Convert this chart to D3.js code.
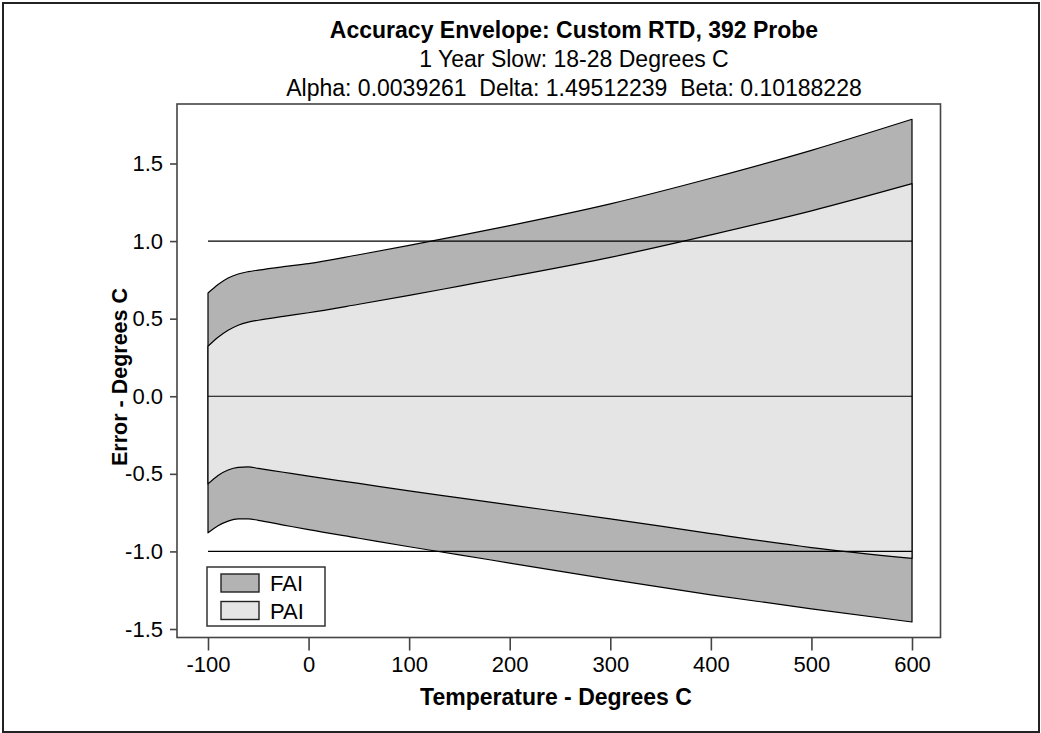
<!DOCTYPE html>
<html>
<head>
<meta charset="utf-8">
<script src="https://cdn.jsdelivr.net/npm/d3@7"></script>
<style>
  html, body { margin: 0; padding: 0; background: #fff; }
  svg { display: block; font-family: "Liberation Sans", Arial, Helvetica, sans-serif; }
</style>
</head>
<body>
<div id="chart"></div>
<script>
// values
const temps = [-100, -90, -80, -70, -60, -50, -25, 0, 50, 100, 150, 200, 300, 400, 500, 600];
const faiUpper = [0.665, 0.72, 0.762, 0.788, 0.803, 0.813, 0.835, 0.855, 0.912, 0.972, 1.035, 1.10, 1.24, 1.405, 1.585, 1.785];
const paiUpper = [0.322, 0.38, 0.425, 0.458, 0.478, 0.49, 0.515, 0.538, 0.593, 0.65, 0.71, 0.77, 0.895, 1.04, 1.195, 1.37];
const paiLower = [-0.565, -0.51, -0.475, -0.458, -0.455, -0.465, -0.49, -0.515, -0.562, -0.61, -0.655, -0.70, -0.79, -0.885, -0.975, -1.045];
const faiLower = [-0.88, -0.835, -0.805, -0.79, -0.79, -0.80, -0.83, -0.86, -0.915, -0.97, -1.022, -1.075, -1.18, -1.28, -1.37, -1.455];
const refLines = [1.0, 0.0, -1.0];
const xTicks = [-100, 0, 100, 200, 300, 400, 500, 600];
const yTicks = [-1.5, -1.0, -0.5, 0.0, 0.5, 1.0, 1.5];
const legendItems = ['FAI', 'PAI'];
const titleLines = [
    'Accuracy Envelope: Custom RTD, 392 Probe',
    '1 Year Slow: 18-28 Degrees C',
    'Alpha: 0.0039261  Delta: 1.49512239  Beta: 0.10188228'
];

const width = 1041, height = 733;
const box = {left: 177, top: 104, right: 940.5, bottom: 637.5};
const fills = {FAI: '#b3b3b3', PAI: '#e5e5e5'};

const x = d3.scaleLinear().domain([-100, 600]).range([208, 912]);
const y = d3.scaleLinear().domain([-1.5, 1.5]).range([629, 163.5]);

// plain hyphen for negatives, like the original
const hyphen = (f) => (d) => f(d).replace('\u2212', '-');

const svg = d3.select('#chart')
    .append('svg')
    .attr('width', width)
    .attr('height', height);

// outer frame
svg.append('rect')
    .attr('x', 3).attr('y', 3)
    .attr('width', 1036).attr('height', 729)
    .attr('fill', '#fff')
    .attr('stroke', '#222')
    .attr('stroke-width', 2);

// titles
svg.append('g').selectAll('text')
    .data(titleLines)
    .enter().append('text')
    .attr('x', 574)
    .attr('y', (d, i) => [38, 67, 96][i])
    .attr('text-anchor', 'middle')
    .attr('font-size', 23)
    .attr('font-weight', (d, i) => i === 0 ? 'bold' : 'normal')
    .attr('fill', '#000')
    .style('white-space', 'pre')
    .text(d => d);

const faiData = temps.map((t, i) => ({t: t, lo: faiLower[i], hi: faiUpper[i]}));
const paiData = temps.map((t, i) => ({t: t, lo: paiLower[i], hi: paiUpper[i]}));

const area = d3.area()
    .x(d => x(d.t))
    .y0(d => y(d.lo))
    .y1(d => y(d.hi))
    .curve(d3.curveMonotoneX);

svg.append('path')
    .datum(faiData)
    .attr('d', area)
    .attr('fill', fills.FAI)
    .attr('stroke', '#000')
    .attr('stroke-width', 1.2)
    .attr('stroke-linejoin', 'round');

svg.append('path')
    .datum(paiData)
    .attr('d', area)
    .attr('fill', fills.PAI)
    .attr('stroke', '#000')
    .attr('stroke-width', 1.2)
    .attr('stroke-linejoin', 'round');

// limit lines
svg.append('g').selectAll('line')
    .data(refLines)
    .enter().append('line')
    .attr('x1', x(-100)).attr('x2', x(600))
    .attr('y1', d => y(d)).attr('y2', d => y(d))
    .attr('stroke', '#000')
    .attr('stroke-width', 1.2);

// plot box
svg.append('rect')
    .attr('x', box.left).attr('y', box.top)
    .attr('width', box.right - box.left)
    .attr('height', box.bottom - box.top)
    .attr('fill', 'none')
    .attr('stroke', '#444')
    .attr('stroke-width', 1.6);

// x axis
const xAxis = d3.axisBottom(x)
    .tickValues(xTicks)
    .tickSize(13)
    .tickPadding(6)
    .tickFormat(hyphen(d3.format('d')));
const gx = svg.append('g')
    .attr('transform', `translate(0, ${box.bottom})`)
    .call(xAxis);
gx.select('.domain').remove();
gx.selectAll('line').attr('stroke', '#444').attr('stroke-width', 1.6);
gx.selectAll('text')
    .attr('font-size', 22)
    .attr('font-family', '"Liberation Sans", Arial, sans-serif')
    .attr('fill', '#000');

// y axis
const yAxis = d3.axisLeft(y)
    .tickValues(yTicks)
    .tickSize(7)
    .tickPadding(7)
    .tickFormat(hyphen(d3.format('.1f')));
const gy = svg.append('g')
    .attr('transform', `translate(${box.left}, 0)`)
    .call(yAxis);
gy.select('.domain').remove();
gy.selectAll('line').attr('stroke', '#444').attr('stroke-width', 1.6);
gy.selectAll('text')
    .attr('font-size', 22)
    .attr('font-family', '"Liberation Sans", Arial, sans-serif')
    .attr('fill', '#000');

// axis titles
svg.append('text')
    .attr('x', 556)
    .attr('y', 705)
    .attr('text-anchor', 'middle')
    .attr('font-size', 23)
    .attr('font-weight', 'bold')
    .text('Temperature - Degrees C');

svg.append('text')
    .attr('transform', 'translate(127, 377) rotate(-90)')
    .attr('text-anchor', 'middle')
    .attr('font-size', 21.5)
    .attr('font-weight', 'bold')
    .text('Error - Degrees C');

// legend
const legend = svg.append('g');
legend.append('rect')
    .attr('x', 207).attr('y', 567)
    .attr('width', 118).attr('height', 59)
    .attr('fill', '#fff')
    .attr('stroke', '#333')
    .attr('stroke-width', 1.5);
const li = legend.selectAll('g.item')
    .data(legendItems)
    .enter().append('g')
    .attr('class', 'item')
    .attr('transform', (d, i) => `translate(0, ${i * 27.5})`);
li.append('rect')
    .attr('x', 221).attr('y', 574)
    .attr('width', 38).attr('height', 18)
    .attr('fill', d => fills[d])
    .attr('stroke', '#222')
    .attr('stroke-width', 1.4);
li.append('text')
    .attr('x', 270)
    .attr('y', 591)
    .attr('font-size', 22)
    .text(d => d);
</script>
</body>
</html>
